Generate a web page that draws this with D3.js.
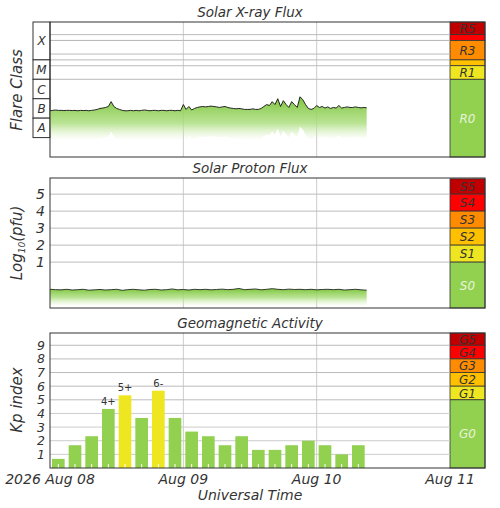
<!DOCTYPE html>
<html><head><meta charset="utf-8">
<script src="https://cdn.jsdelivr.net/npm/d3@7"></script>
<style>body{margin:0;background:#fff}text{font-family:"DejaVu Sans",sans-serif;font-style:italic;fill:#333}</style>
</head><body><svg id="c" width="500" height="508"></svg>
<script>
// ---- data ----
const days = ["2026 Aug 08","Aug 09","Aug 10","Aug 11"];
// X-ray flux, log10(W/m^2), every 30 min from Aug 08 00:00
const xrayLog = [
-6.62,-6.6,-6.58,-6.6,-6.6,-6.61,-6.6,-6.6,-6.61,-6.6,-6.62,-6.6,-6.61,-6.6,-6.62,-6.6,-6.58,-6.55,-6.5,-6.48,-6.45,-6.4,-6.15,-6.4,
-6.5,-6.55,-6.6,-6.62,-6.62,-6.6,-6.62,-6.6,-6.62,-6.6,-6.58,-6.6,-6.62,-6.6,-6.6,-6.62,-6.6,-6.6,-6.62,-6.6,-6.6,-6.62,-6.6,-6.62,
-6.3,-6.55,-6.4,-6.58,-6.5,-6.45,-6.42,-6.4,-6.42,-6.4,-6.38,-6.4,-6.42,-6.45,-6.42,-6.4,-6.45,-6.48,-6.5,-6.52,-6.5,-6.52,-6.55,-6.55,
-6.55,-6.52,-6.55,-6.55,-6.5,-6.4,-6.3,-6.35,-6.15,-6.3,-6.0,-6.4,-6.1,-6.3,-6.45,-6.15,-6.3,-6.45,-5.9,-6.05,-6.3,-6.5,-6.55,-6.5,
-6.35,-6.45,-6.4,-6.48,-6.42,-6.5,-6.45,-6.48,-6.35,-6.48,-6.45,-6.42,-6.45,-6.45,-6.42,-6.45,-6.47,-6.45,-6.47];
// Proton flux, log10(pfu), hourly
const protonLog = [-0.6,-0.62,-0.63,-0.6,-0.64,-0.62,-0.6,-0.65,-0.63,-0.61,-0.64,-0.62,-0.6,-0.66,-0.62,-0.6,-0.63,-0.65,-0.61,-0.6,-0.64,-0.62,-0.58,-0.63,-0.61,-0.64,-0.6,-0.62,-0.6,-0.63,-0.61,-0.59,-0.62,-0.6,-0.55,-0.62,-0.6,-0.58,-0.63,-0.6,-0.56,-0.6,-0.62,-0.59,-0.61,-0.6,-0.62,-0.6,-0.63,-0.61,-0.6,-0.62,-0.6,-0.64,-0.62,-0.6,-0.63,-0.65];
// Kp, 3-hourly
const kp = [0.67,1.67,2.33,4.33,5.33,3.67,5.67,3.67,2.67,2.33,1.67,2.33,1.33,1.33,1.67,2,1.67,1,1.67];
const kpLabels = ["","","","4+","5+","","6-","","","","","","","","","","","",""];
const rScale = [["R5",-2.05,-2.7],["",-2.7,-3],["R3",-3,-4],["",-4,-4.3],["R1",-4.3,-5],["R0",-5,-9]];
const sScale = [["S5",5.9,5],["S4",5,4],["S3",4,3],["S2",3,2],["S1",2,1],["S0",1,-1.7]];
const gScale = [["G5",9.9,9],["G4",9,8],["G3",8,7],["G2",7,6],["G1",6,5],["G0",5,0]];
const bandColors = ["#c00000","#ff0000","#ff8c00","#ffc000","#eee620","#92d050"];
// ---- drawing ----
const svg = d3.select("#c");
const X0=50,X1=450,IW=35;
const t0=new Date(Date.UTC(2026,7,8)), t3=new Date(Date.UTC(2026,7,11));
const x=d3.scaleUtc().domain([t0,t3]).range([X0,X1]);
const defs=svg.append("defs");
function grad(id,frac){const g=defs.append("linearGradient").attr("id",id).attr("x1",0).attr("x2",0).attr("y1",0).attr("y2",1);
 g.append("stop").attr("offset",0).attr("stop-color","#7cc43c");g.append("stop").attr("offset",frac).attr("stop-color","#a8dc78").attr("stop-opacity",0.8);g.append("stop").attr("offset",1).attr("stop-color","#d8f0c0").attr("stop-opacity",0);}
function panel(top,bot,title,y,bands){
 svg.append("text").attr("x",250).attr("y",top-5).attr("text-anchor","middle").attr("font-size",13.5).text(title);
 [1,2].forEach(i=>svg.append("line").attr("x1",x(d3.utcDay.offset(t0,i))).attr("x2",x(d3.utcDay.offset(t0,i))).attr("y1",top).attr("y2",bot).attr("stroke","#ccc"));
 bands.forEach((b,i)=>{
  svg.append("rect").attr("x",X1).attr("y",y(b[1])).attr("width",IW).attr("height",y(b[2])-y(b[1])).attr("fill",bandColors[i]).attr("stroke","#333").attr("stroke-width",0.8);
  if(i>0) svg.append("line").attr("x1",X0).attr("x2",X1).attr("y1",y(b[1])).attr("y2",y(b[1])).attr("stroke","#bbb");
  if(b[0]) svg.append("text").attr("x",X1+IW/2).attr("y",(y(b[1])+y(b[2]))/2+4.5).attr("text-anchor","middle").attr("font-size",12).style("fill",i==5?"#e8f4dc":"#333").text(b[0]);
 });
}
// X-ray
const yx=d3.scaleLinear().domain([-2.05,-9]).range([22,157]);
panel(22,157,"Solar X-ray Flux",yx,rScale);
[-3,-3.7].forEach(v=>svg.append("line").attr("x1",X0).attr("x2",X1).attr("y1",yx(v)).attr("y2",yx(v)).attr("stroke","#bbb"));
const classes=[["X",-2.05,-4],["M",-4,-5],["C",-5,-6],["B",-6,-7],["A",-7,-8]];
classes.forEach(c=>{svg.append("rect").attr("x",33).attr("y",yx(c[1])).attr("width",17).attr("height",yx(c[2])-yx(c[1])).attr("fill","#fff").attr("stroke","#333");
 svg.append("text").attr("x",41.5).attr("y",(yx(c[1])+yx(c[2]))/2+4.5).attr("text-anchor","middle").attr("font-size",12).text(c[0]);});
svg.append("text").attr("transform",`translate(22,90) rotate(-90)`).attr("text-anchor","middle").attr("font-size",15).text("Flare Class");
grad("gx",0.6);
const tx=(d,i)=>x(new Date(t0.getTime()+i*1800e3));
svg.append("path").datum(xrayLog).attr("fill","url(#gx)").attr("d",d3.area().x(tx).y0(d=>yx(d)+30).y1(d=>yx(d)));
svg.append("path").datum(xrayLog).attr("fill","none").attr("stroke","#111").attr("stroke-width",0.9).attr("d",d3.line().x(tx).y(d=>yx(d)));
svg.append("rect").attr("x",X0).attr("y",22).attr("width",X1+IW-X0).attr("height",135).attr("fill","none").attr("stroke","#333");
// Proton
const yp=d3.scaleLinear().domain([5.95,-1.7]).range([178,308]);
panel(178,308,"Solar Proton Flux",yp,sScale);
[1,2,3,4,5].forEach(v=>svg.append("text").attr("x",45).attr("y",yp(v)+5).attr("text-anchor","end").attr("font-size",14).text(v));
const lt=svg.append("text").attr("transform","translate(22,243) rotate(-90)").attr("text-anchor","middle").attr("font-size",15);
lt.append("tspan").text("Log");lt.append("tspan").attr("font-size",9).attr("dy",3).text("10");lt.append("tspan").attr("dy",-3).text("(pfu)");
grad("gp",0.5);
const tp=(d,i)=>x(new Date(t0.getTime()+i*3600e3));
svg.append("path").datum(protonLog).attr("fill","url(#gp)").attr("d",d3.area().x(tp).y0(d=>yp(d)+16).y1(d=>yp(d)));
svg.append("path").datum(protonLog).attr("fill","none").attr("stroke","#111").attr("stroke-width",0.8).attr("d",d3.line().x(tp).y(d=>yp(d)));
svg.append("rect").attr("x",X0).attr("y",178).attr("width",X1+IW-X0).attr("height",130).attr("fill","none").attr("stroke","#333");
// Kp
const yk=d3.scaleLinear().domain([0,9.9]).range([468,333]);
panel(333,468,"Geomagnetic Activity",yk,gScale);
[1,2,3,4].forEach(v=>svg.append("line").attr("x1",X0).attr("x2",X1).attr("y1",yk(v)).attr("y2",yk(v)).attr("stroke","#ccc"));
[1,2,3,4,5,6,7,8,9].forEach(v=>svg.append("text").attr("x",45).attr("y",yk(v)+4.5).attr("text-anchor","end").attr("font-size",12.5).text(v));
svg.append("text").attr("transform","translate(22,400) rotate(-90)").attr("text-anchor","middle").attr("font-size",15).text("Kp index");
const slot=(x(d3.utcHour.offset(t0,3))-X0);
kp.forEach((v,i)=>{const bx=x(d3.utcHour.offset(t0,3*i))+slot*0.12,bw=slot*0.76;
 svg.append("rect").attr("x",bx).attr("y",yk(v)).attr("width",bw).attr("height",yk(0)-yk(v)).attr("fill",v>=5?"#eee620":"#92d050");
 svg.append("line").attr("x1",bx+bw/2).attr("x2",bx+bw/2).attr("y1",yk(0)).attr("y2",yk(0)-4).attr("stroke","#fff");
 if(kpLabels[i]) svg.append("text").attr("x",bx+bw/2).attr("y",yk(v)-4).attr("text-anchor","middle").attr("font-size",10).style("font-style","normal").text(kpLabels[i]);
});
svg.append("rect").attr("x",X0).attr("y",333).attr("width",X1+IW-X0).attr("height",135).attr("fill","none").attr("stroke","#333");
days.forEach((d,i)=>svg.append("text").attr("x",x(d3.utcDay.offset(t0,i))).attr("y",484).attr("text-anchor","middle").attr("font-size",14).text(d));
svg.append("text").attr("x",250).attr("y",500).attr("text-anchor","middle").attr("font-size",14).text("Universal Time");
</script></body></html>
